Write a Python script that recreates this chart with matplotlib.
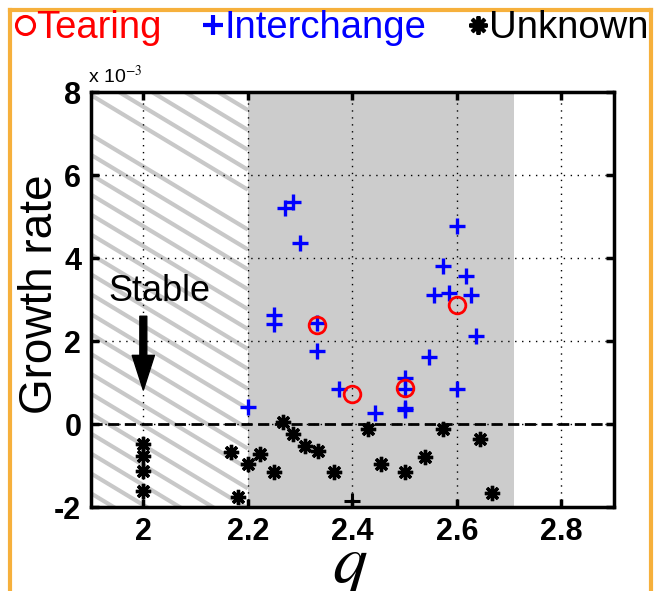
import matplotlib
matplotlib.use('Agg')
import matplotlib.pyplot as plt
from matplotlib.lines import Line2D
from matplotlib.patches import Rectangle
import numpy as np

plt.rcParams['font.family'] = ['Liberation Sans', 'DejaVu Sans']
plt.rcParams['mathtext.fontset'] = 'stix'
plt.rcParams['axes.unicode_minus'] = False

# growth rates in units of 1e-3
tearing_q = [2.333, 2.400, 2.500, 2.600]
tearing_g = [2.39, 0.72, 0.87, 2.88]

interchange_q = [2.200, 2.250, 2.250, 2.272, 2.287, 2.300, 2.333, 2.333, 2.375, 2.444,
                 2.500, 2.500, 2.500, 2.500, 2.546, 2.557, 2.573, 2.584, 2.600, 2.600,
                 2.617, 2.626, 2.637]
interchange_g = [0.41, 2.63, 2.41, 5.22, 5.36, 4.37, 2.43, 1.77, 0.84, 0.26,
                 1.12, 0.84, 0.39, 0.34, 1.61, 3.12, 3.82, 3.16, 4.78, 0.84,
                 3.58, 3.10, 2.12]

unknown_q = [2.000, 2.000, 2.000, 2.000, 2.168, 2.182, 2.201, 2.223, 2.250, 2.267,
             2.286, 2.309, 2.334, 2.365, 2.430, 2.455, 2.501, 2.539, 2.573, 2.644, 2.668]
unknown_g = [-0.47, -0.77, -1.12, -1.61, -0.67, -1.75, -0.95, -0.72, -1.16, 0.04,
             -0.24, -0.53, -0.64, -1.16, -0.13, -0.96, -1.16, -0.80, -0.13, -0.35, -1.65]

odd_q = [2.400]
odd_g = [-1.85]

stable_q = (1.9, 2.2)
shaded_q = (2.2, 2.71)

x_ticks = [2, 2.2, 2.4, 2.6, 2.8]
x_labels = ['2', '2.2', '2.4', '2.6', '2.8']
y_ticks = [-2, 0, 2, 4, 6, 8]

orange = '#f6b03c'
asterisk = (8, 2, 0)

fig = plt.figure(figsize=(6.55, 5.91), dpi=100)
ax = fig.add_axes([0.139, 0.142, 0.798, 0.702])
ax.set_xlim(1.9, 2.9)
ax.set_ylim(-2, 8)

# shaded + hatched regions
ax.axvspan(*shaded_q, color='#cccccc', lw=0, zorder=0.5)
clip = Rectangle((stable_q[0], -2), stable_q[1] - stable_q[0], 10,
                 transform=ax.transData, facecolor='none', edgecolor='none')
ax.add_patch(clip)
slope = -7.6
for c in np.arange(7.93 - 0.48 * 2, -2 - 0.01, -0.48).tolist() + np.arange(7.93, 12.5, 0.48).tolist():
    ln, = ax.plot([stable_q[0], stable_q[1]], [c, c + slope * (stable_q[1] - stable_q[0])],
                  color='#c8c8c8', lw=3, zorder=0.8, solid_capstyle='butt')
    ln.set_clip_path(clip)

ax.axhline(0, color='k', ls='--', lw=2, dashes=(4, 2), zorder=2)

ax.plot(unknown_q, unknown_g, ls='none', marker=asterisk, ms=11, mew=2.4, color='k', zorder=3)
ax.plot(odd_q, odd_g, ls='none', marker='+', ms=11, mew=2.2, color='k', zorder=3)
ax.plot(interchange_q, interchange_g, ls='none', marker='+', ms=11, mew=2.4, color='#0000ff', zorder=4)
ax.plot(tearing_q, tearing_g, ls='none', marker='o', ms=12, mew=2, mfc='none', mec='#ff0000', zorder=5)

ax.annotate('', xy=(2.0, 0.82), xytext=(2.0, 2.6),
            arrowprops=dict(width=5, headwidth=16, headlength=25, color='k', shrink=0))
ax.text(2.03, 3.2, 'Stable', fontsize=26, ha='center', va='center')

ax.set_xticks(x_ticks)
ax.set_xticklabels(x_labels)
ax.set_yticks(y_ticks)
ax.grid(True, color='k', ls=(0, (1, 4)), lw=1)
ax.tick_params(direction='in', length=6, width=2.5, top=True, right=True,
               labelsize=22, pad=7)
for lab in ax.get_xticklabels() + ax.get_yticklabels():
    lab.set_fontweight('bold')
for sp in ax.spines.values():
    sp.set_linewidth(2.5)

ax.text(-0.006, 1.012, r'x 10$^{-3}$', transform=ax.transAxes, fontsize=14,
        ha='left', va='bottom')

fig.text(40 / 655, 1 - 294 / 591, 'Growth rate', rotation=90, fontsize=33,
         ha='center', va='center')
fig.text(350 / 655, 1 - 583 / 591, '$q$', fontsize=50, ha='center', va='baseline')

handles = [
    Line2D([], [], ls='none', marker='o', ms=13, mew=2.2, mfc='none', mec='#ff0000'),
    Line2D([], [], ls='none', marker='+', ms=14, mew=3, color='#0000ff'),
    Line2D([], [], ls='none', marker=asterisk, ms=13, mew=2.8, color='k'),
]
leg = fig.legend(handles, ['Tearing', 'Interchange', 'Unknown'], ncol=3,
                 loc='upper left', bbox_to_anchor=(15 / 655, 1 - 10 / 591),
                 frameon=False, fontsize=27.5, handlelength=0.5, handletextpad=0.05,
                 columnspacing=1.1, borderpad=0, borderaxespad=0)
for t, c in zip(leg.get_texts(), ['#ff0000', '#0000ff', 'k']):
    t.set_color(c)

# orange frame
fig.add_artist(Line2D([10 / 655, 10 / 655], [0, 1 - 10 / 591], color=orange, lw=3))
fig.add_artist(Line2D([651 / 655, 651 / 655], [0, 1 - 10 / 591], color=orange, lw=3))
fig.add_artist(Line2D([10 / 655, 651 / 655], [1 - 10 / 591, 1 - 10 / 591], color=orange, lw=3))

fig.savefig('out.png', dpi=100)
